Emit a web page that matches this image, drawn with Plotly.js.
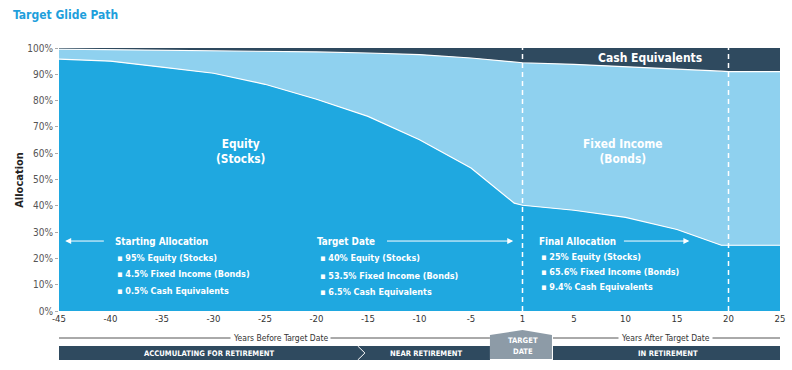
<!DOCTYPE html>
<html><head><meta charset="utf-8">
<script src="https://cdn.plot.ly/plotly-3.0.1.min.js"></script>
<style>html,body{margin:0;padding:0;background:#fff}#chart{width:792px;height:370px}</style>
</head><body><div id="chart"></div>
<script>
// Data
const years       = [-45, -40, -35, -30, -25, -20, -15, -10, -5, -0.8, 0, 5, 10, 15, 19.3, 20, 25];
const equity      = [95.8, 95.0, 92.7, 90.4, 86.2, 80.5, 74.0, 65.1, 54.4, 41.0, 40.2, 38.3, 35.6, 31.0, 25.0, 25.0, 25.0];
const fixedIncome = [3.8, 4.4, 6.5, 8.6, 12.6, 18.0, 24.1, 32.4, 41.8, 53.8, 54.2, 55.5, 57.4, 61.0, 66.2, 66.0, 66.0];
const cash        = [0.4, 0.6, 0.8, 1.0, 1.2, 1.5, 1.9, 2.5, 3.8, 5.2, 5.6, 6.2, 7.0, 8.0, 8.8, 9.0, 9.0];
const xTickVals   = [-45, -40, -35, -30, -25, -20, -15, -10, -5, 0, 5, 10, 15, 20, 25];
const xTickText   = ['-45', '-40', '-35', '-30', '-25', '-20', '-15', '-10', '-5', '1', '5', '10', '15', '20', '25'];
const yTickVals   = [0, 10, 20, 30, 40, 50, 60, 70, 80, 90, 100];
const yTickText   = ['0%', '10%', '20%', '30%', '40%', '50%', '60%', '70%', '80%', '90%', '100%'];
const startLines  = ['Starting Allocation', '95% Equity (Stocks)', '4.5% Fixed Income (Bonds)', '0.5% Cash Equivalents'];
const targetLines = ['Target Date', '40% Equity (Stocks)', '53.5% Fixed Income (Bonds)', '6.5% Cash Equivalents'];
const finalLines  = ['Final Allocation', '25% Equity (Stocks)', '65.6% Fixed Income (Bonds)', '9.4% Cash Equivalents'];

const FONT = "'DejaVu Sans Condensed', 'Liberation Sans Narrow', sans-serif";
const C_EQ = '#1fa8e0', C_FI = '#8fd1ef', C_CASH = '#2f4a5f', C_GRAY = '#8d9ba7';

const traces = [
  {x: years, y: equity, stackgroup: 'a', name: 'Equity', mode: 'lines',
   line: {color: '#ffffff', width: 1.2}, fillcolor: C_EQ},
  {x: years, y: fixedIncome, stackgroup: 'a', name: 'Fixed Income', mode: 'lines',
   line: {color: '#ffffff', width: 1.2}, fillcolor: C_FI},
  {x: years, y: cash, stackgroup: 'a', name: 'Cash', mode: 'lines',
   line: {color: C_CASH, width: 0.5}, fillcolor: C_CASH}
];

const ann = [];
function txt(x, y, text, size, opts) {
  ann.push(Object.assign({x: x, y: y, xref: 'x', yref: 'y', text: text, showarrow: false,
    font: {family: FONT, size: size, color: '#ffffff'}, xanchor: 'left', yanchor: 'middle'}, opts || {}));
}
function block(x, lines, ys) {
  txt(x, ys[0], '<b>' + lines[0] + '</b>', 9.8);
  for (let i = 1; i < lines.length; i++) txt(x + 0.2, ys[i], '<b>▪ ' + lines[i] + '</b>', 9);
}
block(-39.8, startLines, [26.6, 20.2, 14.1, 7.6]);
block(-20.1, targetLines, [26.6, 20.0, 13.5, 7.2]);
block(1.4, finalLines, [26.6, 20.6, 14.9, 9.1]);

function arrow(x0, x1, y) {
  ann.push({x: x1, y: y, ax: x0, ay: y, xref: 'x', yref: 'y', axref: 'x', ayref: 'y', text: '',
    showarrow: true, arrowhead: 2, arrowsize: 1.2, arrowwidth: 1, arrowcolor: '#ffffff'});
}
arrow(-40.5, -44.4, 26.6);
arrow(-13.3, -0.9, 26.6);
arrow(9.7, 16.2, 26.6);

txt(-27.4, 60.5, '<b>Equity<br>(Stocks)</b>', 11.8, {xanchor: 'center'});
txt(9.8, 60.5, '<b>Fixed Income<br>(Bonds)</b>', 11.8, {xanchor: 'center'});
txt(12.4, 96.2, '<b>Cash Equivalents</b>', 12, {xanchor: 'center'});

// y-axis title
ann.push({x: -0.055, y: 0.5, xref: 'paper', yref: 'paper', text: '<b>Allocation</b>', textangle: -90,
  showarrow: false, xanchor: 'center', font: {family: FONT, size: 11, color: '#222'}});

// bottom labels
function ptxt(x, y, text, size, color, bg) {
  ann.push({x: x, y: y, xref: 'x', yref: 'paper', text: text, showarrow: false,
    font: {family: FONT, size: size, color: color}, bgcolor: bg || 'rgba(0,0,0,0)', borderpad: 2,
    xanchor: 'center', yanchor: 'middle'});
}
ptxt(-23.5, -0.1027, 'Years Before Target Date', 8.5, '#333', '#ffffff');
ptxt(13.9, -0.1027, 'Years After Target Date', 8.5, '#333', '#ffffff');
ptxt(-30.4, -0.160, '<b>ACCUMULATING FOR RETIREMENT</b>', 7.6, '#ffffff');
ptxt(-9.3, -0.160, '<b>NEAR RETIREMENT</b>', 7.6, '#ffffff');
ptxt(14.1, -0.160, '<b>IN RETIREMENT</b>', 7.6, '#ffffff');
ptxt(0, -0.114, '<b>TARGET</b>', 7.6, '#ffffff');
ptxt(0, -0.154, '<b>DATE</b>', 7.6, '#ffffff');

const shapes = [
  {type: 'line', xref: 'x', yref: 'y', x0: 0, x1: 0, y0: 0, y1: 100, line: {color: '#ffffff', width: 1.5, dash: '5px,4px'}},
  {type: 'line', xref: 'x', yref: 'y', x0: 20, x1: 20, y0: 0, y1: 100, line: {color: '#ffffff', width: 1.5, dash: '5px,4px'}},
  {type: 'line', xref: 'x', yref: 'paper', x0: -45.2, x1: -3.16, y0: -0.1027, y1: -0.1027, line: {color: '#555', width: 1}},
  {type: 'line', xref: 'x', yref: 'paper', x0: 2.96, x1: 25, y0: -0.1027, y1: -0.1027, line: {color: '#555', width: 1}},
  {type: 'rect', xref: 'x', yref: 'paper', x0: -45.2, x1: -3.16, y0: -0.1331, y1: -0.1863, fillcolor: C_CASH, line: {width: 0}},
  {type: 'rect', xref: 'x', yref: 'paper', x0: 2.96, x1: 25, y0: -0.1331, y1: -0.1863, fillcolor: C_CASH, line: {width: 0}},
  {type: 'path', xref: 'x', yref: 'paper', path: 'M -16.0 -0.1331 L -15.3 -0.1597 L -16.0 -0.1863', line: {color: '#ffffff', width: 1}},
  {type: 'path', xref: 'x', yref: 'paper', path: 'M -3.16 -0.1825 L -3.16 -0.0913 L 0 -0.0722 L 2.86 -0.0913 L 2.86 -0.1825 Z', fillcolor: C_GRAY, line: {width: 0}}
];

const layout = {
  width: 792, height: 370,
  margin: {l: 59, r: 12, t: 48, b: 59},
  paper_bgcolor: '#ffffff', plot_bgcolor: '#ffffff',
  showlegend: false,
  title: {text: '<b>Target Glide Path</b>', x: 13 / 792, xanchor: 'left', xref: 'container',
    y: 1 - 15 / 370, yanchor: 'middle', yref: 'container',
    font: {family: FONT, size: 12, color: '#1f9fdc'}},
  xaxis: {range: [-45, 25], tickmode: 'array', tickvals: xTickVals, ticktext: xTickText,
    showgrid: false, zeroline: false, showline: false, ticks: '',
    tickfont: {family: FONT, size: 9.5, color: '#333'}},
  yaxis: {range: [0, 100], tickmode: 'array', tickvals: yTickVals, ticktext: yTickText,
    showgrid: false, zeroline: false, showline: false, ticks: 'outside', ticklen: 3, tickcolor: '#aaa',
    tickfont: {family: FONT, size: 10, color: '#555'}},
  annotations: ann,
  shapes: shapes
};
Plotly.newPlot('chart', traces, layout, {staticPlot: true, displayModeBar: false});
</script></body></html>
